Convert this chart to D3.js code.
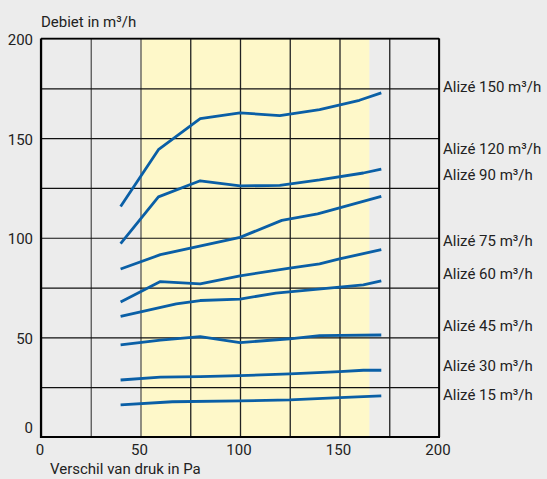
<!DOCTYPE html>
<html>
<head>
<meta charset="utf-8">
<script src="https://cdn.jsdelivr.net/npm/d3@7/dist/d3.min.js"></script>
<style>
  html, body { margin: 0; padding: 0; background: #ececec; }
  svg { display: block; }
  text { font-family: Roboto, "Noto Sans", sans-serif; fill: #222; }
</style>
</head>
<body>
<svg id="chart" width="547" height="479"></svg>
<script>
// ---- data ----
const xTickLabels = [0, 50, 100, 150, 200];
const yTickLabels = [0, 50, 100, 150, 200];
const gridStep = [0, 25, 50, 75, 100, 125, 150, 175, 200];
const highlightRange = [50, 165];

const seriesNames = ["Alizé 150 m³/h", "Alizé 120 m³/h", "Alizé 90 m³/h", "Alizé 75 m³/h",
                     "Alizé 60 m³/h", "Alizé 45 m³/h", "Alizé 30 m³/h", "Alizé 15 m³/h"];
const labelValues = [175.7, 144.6, 131.7, 98.6, 81.9, 55.8, 35.8, 21.4];

const s150 = [[40,115.7],[59,144.2],[80,159.8],[100,162.7],[120,161.3],[140,164.3],[160,169],[171,172.7]];
const s120 = [[40,97],[59,120.5],[80,128.6],[100,126],[120,126.3],[140,129],[162,132.5],[171,134.5]];
const s90  = [[40,84.3],[60,91.5],[100,100.2],[121,108.7],[139,112],[150,115],[171,120.8]];
const s75  = [[40,67.7],[60,78],[80,76.9],[100,80.9],[125,84.8],[140,86.9],[150,89.4],[171,94]];
const s60  = [[40,60.5],[68,66.8],[80,68.5],[100,69.2],[118,72.2],[150,75.2],[162,76.4],[171,78.4]];
const s45  = [[40,46.2],[60,48.6],[80,50.4],[100,47.4],[125,49.3],[140,50.9],[171,51.2]];
const s30  = [[40,28.6],[60,30],[80,30.3],[100,30.8],[125,31.7],[150,32.8],[162,33.5],[171,33.5]];
const s15  = [[40,16.1],[66,17.7],[100,18.1],[125,18.6],[150,19.8],[171,20.6]];
const seriesData = [s150, s120, s90, s75, s60, s45, s30, s15];

// ---- layout ----
const svg = d3.select("#chart");
const mLeft = 41, mRight = 439, mTop = 38.5, mBottom = 437;
const x = d3.scaleLinear().domain([0, 200]).range([mLeft, mRight]);
const y = d3.scaleLinear().domain([0, 200]).range([mBottom, mTop]);
const fs = "15px";

// highlight band
svg.append("rect")
  .attr("x", x(highlightRange[0])).attr("y", y(200))
  .attr("width", x(highlightRange[1]) - x(highlightRange[0]))
  .attr("height", y(0) - y(200))
  .attr("fill", "#fef8c9");

// vertical grid
const vg = svg.append("g").attr("transform", `translate(0,${mBottom})`)
  .call(d3.axisBottom(x).tickValues(gridStep).tickSize(-(mBottom - mTop)).tickFormat(""));
vg.select(".domain").remove();
vg.selectAll("line").attr("stroke", (d) => d <= 50 ? "#555" : "#222").attr("stroke-width", 1.3);

// horizontal grid
const hg = svg.append("g").attr("transform", `translate(${mLeft},0)`)
  .call(d3.axisLeft(y).tickValues(gridStep).tickSize(-(mRight - mLeft)).tickFormat(""));
hg.select(".domain").remove();
hg.selectAll("line").attr("stroke", "#111").attr("stroke-width", 1.2);

// frame
svg.append("line").attr("x1", x(0)).attr("x2", x(200)).attr("y1", y(200)).attr("y2", y(200))
  .attr("stroke", "#000").attr("stroke-width", 1.6);
svg.append("line").attr("x1", x(200)).attr("x2", x(200)).attr("y1", y(0)).attr("y2", y(200))
  .attr("stroke", "#000").attr("stroke-width", 1.8);
svg.append("line").attr("x1", x(0)).attr("x2", x(0)).attr("y1", y(0) + 1).attr("y2", y(200))
  .attr("stroke", "#000").attr("stroke-width", 2.2);
svg.append("line").attr("x1", x(0) - 1).attr("x2", x(200) + 1).attr("y1", y(0)).attr("y2", y(0))
  .attr("stroke", "#000").attr("stroke-width", 2.2);

// axes labels
const xa = svg.append("g").attr("transform", `translate(-1.5,${mBottom})`)
  .call(d3.axisBottom(x).tickValues(xTickLabels).tickSize(0).tickPadding(7));
xa.select(".domain").remove();
xa.selectAll("text").style("font-size", fs).attr("fill", "#222");

const ya = svg.append("g").attr("transform", `translate(${mLeft},0)`)
  .call(d3.axisLeft(y).tickValues(yTickLabels).tickSize(0).tickPadding(8));
ya.select(".domain").remove();
ya.selectAll("text").style("font-size", fs).attr("fill", "#222")
  .attr("dy", (d) => d === 0 ? "-0.3em" : "0.4em");

svg.append("text").attr("x", 41).attr("y", 27).style("font-size", fs).text("Debiet in m³/h");
svg.append("text").attr("x", 50).attr("y", 474).style("font-size", fs).text("Verschil van druk in Pa");

// series
const line = d3.line().x(d => x(d[0])).y(d => y(d[1]));
svg.append("g").selectAll("path").data(seriesData).join("path")
  .attr("d", line).attr("fill", "none").attr("stroke", "#0a5fa6")
  .attr("stroke-width", 2.8).attr("stroke-linejoin", "round");

// series labels
svg.append("g").selectAll("text").data(seriesNames).join("text")
  .attr("x", mRight + 4).attr("y", (d, i) => y(labelValues[i]))
  .attr("dy", "0.36em").style("font-size", fs).text(d => d);
</script>
</body>
</html>
